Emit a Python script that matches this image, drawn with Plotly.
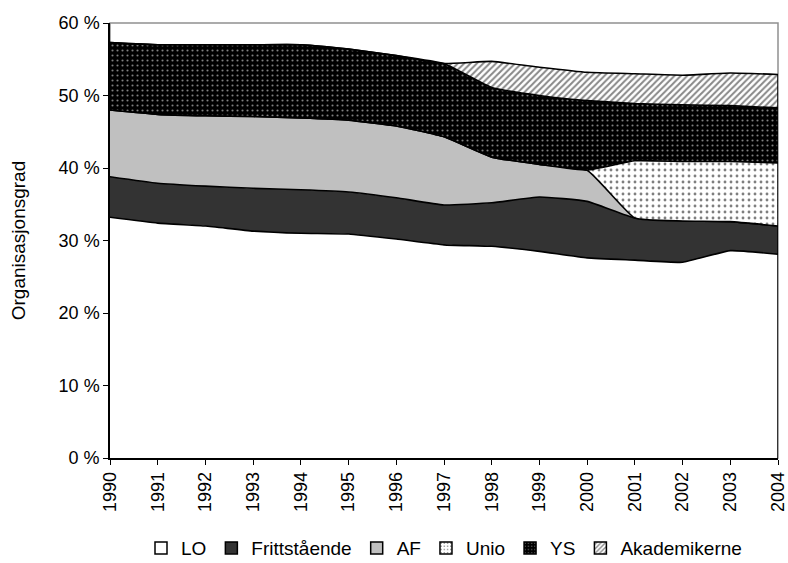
import plotly.graph_objects as go

# Organisasjonsgrad by union confederation, 1990-2004 (percent of employees)
years = list(range(1990, 2005))
lo = [33.2, 32.4, 32.0, 31.3, 31.0, 30.9, 30.2, 29.4, 29.2, 28.5, 27.6, 27.3, 27.0, 28.6, 28.1]
frittstaende = [5.6, 5.5, 5.5, 5.9, 6.0, 5.8, 5.7, 5.5, 6.0, 7.5, 7.8, 5.8, 5.7, 4.0, 3.9]
af = [9.2, 9.5, 9.7, 9.9, 9.9, 9.9, 9.9, 9.4, 6.3, 4.5, 4.3, 0, 0, 0, 0]
unio = [0, 0, 0, 0, 0, 0, 0, 0, 0, 0, 0, 7.9, 8.2, 8.3, 8.7]
ys = [9.3, 9.6, 9.8, 9.9, 10.1, 9.8, 9.7, 10.1, 9.6, 9.5, 9.6, 7.9, 7.8, 7.7, 7.6]
akademikerne = [0, 0, 0, 0, 0, 0, 0, 0, 3.6, 3.9, 3.9, 4.1, 4.1, 4.5, 4.6]

y_ticks = [0, 10, 20, 30, 40, 50, 60]

FONT = "Liberation Sans, Arial, sans-serif"

series = [
    ("LO", lo, dict(shape="", bgcolor="white", fgcolor="white")),
    ("Frittstående", frittstaende, dict(shape="", bgcolor="#333333", fgcolor="#333333")),
    ("AF", af, dict(shape="", bgcolor="#c0c0c0", fgcolor="#c0c0c0")),
    ("Unio", unio, dict(shape=".", bgcolor="white", fgcolor="black", size=6, solidity=0.18)),
    ("YS", ys, dict(shape=".", bgcolor="black", fgcolor="white", size=5, solidity=0.14)),
    ("Akademikerne", akademikerne, dict(shape="/", bgcolor="white", fgcolor="#111111", size=4.5, solidity=0.45)),
]

fig = go.Figure()

for name, vals, pat in series:
    solid = pat["shape"] == ""
    fig.add_trace(go.Scatter(
        x=years, y=vals, name=name, stackgroup="org", mode="lines",
        line=dict(color="black", width=1.6, shape="spline", smoothing=0.4),
        fillcolor=pat["bgcolor"] if solid else None,
        fillpattern=None if solid else pat,
        showlegend=False, hoverinfo="x+y+name",
    ))

# square legend swatches with the same fills
for name, vals, pat in series:
    marker = dict(color=pat["bgcolor"], line=dict(color="black", width=1.5))
    if pat["shape"]:
        marker["pattern"] = dict(pat, size=4)
    fig.add_trace(go.Bar(x=[None], y=[None], name=name, marker=marker, showlegend=True))

total_last = sum(s[1][-1] for s in series)

fig.update_layout(
    width=788, height=563,
    margin=dict(l=110, r=10, t=23, b=105, autoexpand=False),
    paper_bgcolor="white", plot_bgcolor="white",
    font=dict(family=FONT, size=18, color="black"),
    showlegend=True,
    legend=dict(orientation="h", x=0.5, xanchor="center", y=-0.207, yanchor="middle",
                traceorder="normal", font=dict(size=19), itemwidth=30,
                tracegroupgap=0, bgcolor="rgba(0,0,0,0)"),
    xaxis=dict(range=[years[0], years[-1]], tickmode="array", tickvals=years,
               ticktext=[str(y) for y in years], tickangle=-90,
               ticklabeloverflow="allow", automargin=False,
               showline=True, linecolor="black", linewidth=1.5,
               ticks="outside", ticklen=5, tickcolor="black", tickwidth=1,
               showgrid=False, zeroline=False, tickfont=dict(size=18)),
    yaxis=dict(range=[0, 60], tickmode="array", tickvals=y_ticks,
               ticktext=[f"{v} %" for v in y_ticks], automargin=False,
               showline=True, linecolor="black", linewidth=1.5,
               ticks="outside", ticklen=5, tickcolor="black", tickwidth=1,
               showgrid=False, zeroline=False, tickfont=dict(size=18),
               title=dict(text="Organisasjonsgrad", standoff=28, font=dict(size=19))),
    shapes=[
        # light frame around the plotting area
        dict(type="rect", xref="paper", yref="paper", x0=0, x1=1, y0=0, y1=1,
             line=dict(color="#909090", width=1.5), layer="below"),
        # closing edge of the stacked areas at the last year
        dict(type="line", xref="x", yref="y", x0=years[-1], x1=years[-1], y0=0, y1=total_last,
             line=dict(color="black", width=1.6), layer="above"),
    ],
)

fig.write_html("out.html")
